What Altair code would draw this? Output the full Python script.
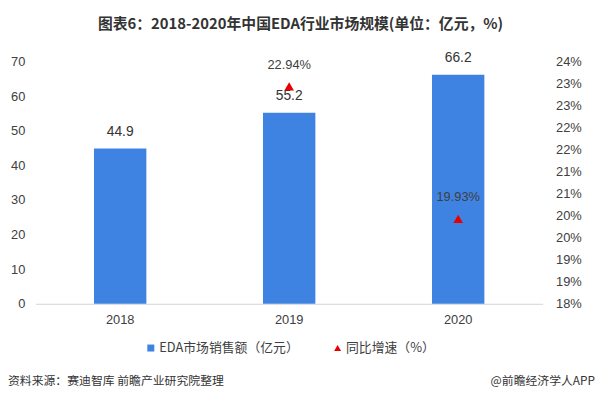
import altair as alt
import pandas as pd

years = ["2018", "2019", "2020"]
sales = [44.9, 55.2, 66.2]
growth_years = ["2019", "2020"]
growth = [22.94, 19.93]

bar_name = "EDA市场销售额（亿元）"
tri_name = "同比增速（%）"

bars_df = pd.DataFrame({"year": years, "sales": sales, "series": bar_name})
tri_df = pd.DataFrame({"year": growth_years, "growth": growth, "series": tri_name})

FONT = "Liberation Sans, Noto Sans CJK SC"
CJK = "Noto Sans CJK SC"
BLUE = "#3F83E2"
RED = "#E80000"

x = alt.X("year:N", title=None,
          scale=alt.Scale(paddingInner=0.69, paddingOuter=0.345),
          axis=alt.Axis(labelAngle=0, ticks=False, labelPadding=10, labelFontSize=13,
                        labelColor="#404040", labelFont=FONT, grid=False,
                        domain=True, domainColor="#D4D4D4", domainWidth=1))

leg = dict(title=None, orient="none", legendX=110, legendY=283,
           direction="horizontal", symbolSize=50,
           labelFontSize=13, labelFont=CJK, labelColor="#404040",
           columnPadding=32, symbolStrokeWidth=0, labelOffset=2)
color = alt.Color("series:N",
                  scale=alt.Scale(domain=[bar_name, tri_name], range=[BLUE, RED]),
                  legend=alt.Legend(**leg))
shape = alt.Shape("series:N",
                  scale=alt.Scale(domain=[bar_name, tri_name], range=["square", "triangle-up"]),
                  legend=alt.Legend(**leg))

yleft = alt.Y("sales:Q", title=None,
              scale=alt.Scale(domain=[0, 70], nice=False),
              axis=alt.Axis(values=[0, 10, 20, 30, 40, 50, 60, 70], grid=False, ticks=False,
                            domain=False, labelPadding=11, labelFontSize=13,
                            labelColor="#404040", labelFont=FONT))

bars = alt.Chart(bars_df).mark_bar().encode(x=x, y=yleft, color=color)
bar_text = alt.Chart(bars_df).mark_text(dy=-17, fontSize=14, font=FONT, color="#333333").encode(
    x=x, y=yleft, text=alt.Text("sales:Q", format=".1f"))
left = alt.layer(bars, bar_text)

yright = alt.Y("growth:Q", title=None,
               scale=alt.Scale(domain=[18, 23.5], nice=False, zero=False),
               axis=alt.Axis(orient="right", values=[18 + 0.5 * i for i in range(12)],
                             labelExpr="round(datum.value) + '%'", grid=False, ticks=False,
                             domain=False, labelPadding=13, labelFontSize=13,
                             labelColor="#404040", labelFont=FONT))
tri = alt.Chart(tri_df).mark_point(filled=True, size=95, opacity=1).encode(
    x=x, y=yright, color=color, shape=shape)
tri_text = alt.Chart(tri_df).transform_calculate(
    lbl="format(datum.growth, '.2f') + '%'"
).mark_text(dy=-22, fontSize=13, font=FONT, color="#404040").encode(
    x=x, y=yright, text="lbl:N")
right = alt.layer(tri, tri_text)

title_df = pd.DataFrame({"t": ["图表6：2018-2020年中国EDA行业市场规模(单位：亿元，%)"]})
title = alt.Chart(title_df).mark_text(fontSize=15, fontWeight="bold", font=CJK,
                                      color="#333333", align="center", baseline="middle").encode(
    x=alt.value(268), y=alt.value(-38), text="t:N")
src_df = pd.DataFrame({"t": ["资料来源：赛迪智库 前瞻产业研究院整理"]})
src = alt.Chart(src_df).mark_text(fontSize=12, font=CJK, color="#333333", align="left",
                                  baseline="middle").encode(
    x=alt.value(-28), y=alt.value(323), text="t:N")
app_df = pd.DataFrame({"t": ["@前瞻经济学人APP"]})
app = alt.Chart(app_df).mark_text(fontSize=12, font=CJK, color="#333333", align="right",
                                  baseline="middle").encode(
    x=alt.value(566), y=alt.value(323), text="t:N")

chart = alt.layer(left, right, title, src, app).resolve_scale(
    y="independent"
).properties(
    width=513, height=245,
    autosize=alt.AutoSizeParams(type="none"),
    padding={"left": 28, "top": 52, "right": 58, "bottom": 92},
).configure(background="white").configure_view(
    stroke="transparent", strokeWidth=0, strokeOpacity=0
).configure_axisY(domain=False, grid=False, ticks=False)

chart.save("out.html", embed_options={"renderer": "svg", "actions": False})
